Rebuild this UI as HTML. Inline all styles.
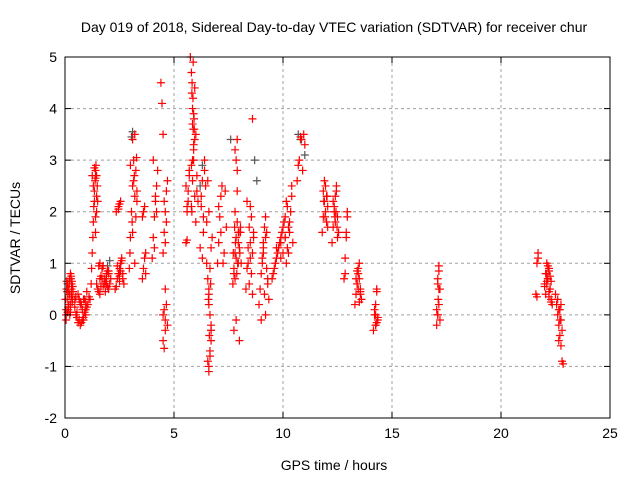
<!DOCTYPE html>
<html><head><meta charset="utf-8"><style>
body{margin:0;background:#fff}
svg{display:block;font-family:"Liberation Sans",sans-serif}
</style></head><body>
<svg id="chart" width="640" height="480" viewBox="0 0 640 480" xmlns="http://www.w3.org/2000/svg">
<rect width="640" height="480" fill="#fff"/>
<g id="grid"></g>
<g id="marks"></g>
<rect x="65" y="57" width="545" height="361" fill="none" stroke="#000" stroke-width="1"/>
<g id="ticks"></g>
<text x="334" y="32" font-size="14" text-anchor="middle">Day 019 of 2018, Sidereal Day-to-day VTEC variation (SDTVAR) for receiver chur</text>
<text x="334" y="470" font-size="14" text-anchor="middle">GPS time / hours</text>
<text x="20" y="238" font-size="14" text-anchor="middle" transform="rotate(-90 20 238)">SDTVAR / TECUs</text>
</svg>
<script>
const xTicks=[0,5,10,15,20,25];
const yTicks=[-2,-1,0,1,2,3,4,5];
const redX=[0.05,0.1,0.15,0.2,0.25,0.3,0.05,0.12,0.18,0.25,0.3,0.35,0.08,0.15,0.22,0.28,0.33,0.1,0.2,0.3,
0.45,0.55,0.65,0.75,0.85,0.95,1.05,0.5,0.6,0.7,0.8,0.9,1.0,0.55,0.7,0.85,0.95,
1.15,1.2,1.22,1.25,1.28,1.3,1.32,1.35,1.38,1.4,1.42,1.45,1.48,1.5,1.35,1.4,1.45,
1.5,1.6,1.7,1.8,1.9,2.0,2.1,1.55,1.65,1.75,1.85,1.95,2.05,1.6,1.8,2.0,1.7,1.9,
2.3,2.4,2.5,2.6,2.7,2.35,2.45,2.55,2.65,2.4,2.5,2.6,2.45,2.55,2.5,
2.95,3.0,3.05,3.1,3.15,3.2,3.25,3.3,2.98,3.08,3.18,3.28,3.1,3.2,3.3,3.0,3.1,3.2,3.15,3.25,
3.55,3.6,3.65,3.7,3.6,3.65,3.55,3.7,4.0,4.05,4.1,4.15,4.2,4.25,4.05,4.15,4.1,4.2,
4.4,4.45,4.5,4.55,4.6,4.5,4.55,4.6,4.65,4.5,4.6,4.55,4.65,4.6,4.7,4.55,4.65,4.7,4.5,4.6,
5.55,5.6,5.65,5.7,5.6,5.65,5.55,5.6,5.7,
5.75,5.8,5.82,5.85,5.88,5.9,5.92,5.95,5.8,5.85,5.9,5.95,5.8,5.85,5.9,5.82,5.88,5.95,6.0,6.05,6.1,6.0,6.05,
6.2,6.25,6.3,6.35,6.4,6.25,6.35,6.45,6.3,6.4,
6.5,6.55,6.6,6.65,6.7,6.55,6.6,6.65,6.7,6.6,6.65,6.7,6.75,6.6,6.55,6.5,6.6,6.7,
7.0,7.05,7.1,7.15,7.2,7.3,7.4,7.05,7.15,7.25,7.35,
7.7,7.75,7.8,7.85,7.9,7.95,8.0,8.05,7.75,7.85,7.95,8.05,7.8,7.9,8.0,7.75,7.85,7.95,7.8,7.9,7.85,7.8,7.9,
8.3,8.35,8.4,8.45,8.5,8.55,8.6,8.65,8.4,8.5,8.6,8.45,8.55,8.35,8.5,8.6,8.65,
8.9,8.95,9.0,9.05,9.1,9.15,9.2,9.25,9.3,9.35,9.0,9.1,9.2,9.3,9.05,9.15,9.25,9.1,9.2,
9.5,9.6,9.7,9.8,9.9,10.0,10.1,10.2,9.55,9.65,9.75,9.85,9.95,10.05,10.15,9.7,9.9,10.1,
10.25,10.3,10.35,10.4,10.45,10.3,10.4,10.65,10.75,10.85,10.95,10.7,10.8,10.9,11.0,
11.8,11.85,11.9,11.95,12.0,12.05,11.85,11.95,12.05,11.9,12.0,
12.25,12.3,12.35,12.4,12.45,12.5,12.55,12.3,12.4,12.5,12.35,12.45,
12.8,12.85,12.9,12.95,12.85,12.9,12.95,
13.3,13.35,13.4,13.45,13.5,13.55,13.6,13.35,13.45,13.55,13.4,13.5,
14.15,14.2,14.25,14.3,14.35,14.2,14.3,14.25,
17.05,17.1,17.15,17.2,17.1,17.15,17.05,17.1,17.15,17.2,
21.6,21.65,21.7,21.65,21.7,
22.0,22.05,22.1,22.15,22.2,22.25,22.3,22.35,22.05,22.15,22.25,22.1,22.2,22.3,22.0,22.1,22.2,
22.5,22.55,22.6,22.65,22.7,22.75,22.8,22.85,22.6,22.7,22.8,22.65,22.75,
0.02,0.07,0.12,0.17,0.22,0.27,0.32,0.37,0.05,0.15,0.25,0.35,
0.45,0.5,0.6,0.7,0.8,0.9,1.0,1.1,0.65,0.75,0.85,0.95,
1.45,1.55,1.65,1.75,1.85,1.95,2.0,1.6,1.7,1.9,
2.35,2.45,2.55,2.65,2.5,
1.25,1.3,1.35,1.4,1.45,1.4,
7.72,7.82,7.92,8.02,7.88,7.98,8.08,7.78,
9.9,10.0,10.1,10.2,10.25,10.15,
13.4,13.5,13.45,13.55,
14.25,14.3,14.35,14.25,
22.15,22.2,22.25,22.1,22.3,22.2,
22.65,22.7,22.75,
5.83,5.87,5.9,5.93,5.85,
6.62,6.65,6.6,6.58,6.68,
11.87,11.93,12.02,
12.38,12.43,12.48,
17.12,17.1,17.15];
const redY=[0.1,0.3,0.5,0.7,0.2,0.6,-0.1,0.05,0.4,0.8,0.35,0.55,0.65,0.15,0.0,0.75,0.25,0.45,0.6,0.5,
0.3,0.05,-0.1,-0.15,-0.1,0.0,0.2,0.35,0.4,0.25,0.1,0.3,0.45,-0.05,0.2,-0.05,0.1,
0.3,0.6,0.9,1.2,1.5,1.8,2.1,2.4,2.6,2.8,2.9,2.7,2.5,2.2,2.85,1.6,2.0,
0.5,0.7,0.9,0.6,0.8,0.5,0.7,0.95,0.75,0.55,0.65,0.85,0.6,0.4,0.7,0.8,0.9,0.6,
0.5,0.7,0.9,1.1,0.6,2.0,2.1,2.2,0.8,0.95,0.65,1.05,2.05,0.85,0.75,
0.9,1.5,2.0,2.5,3.0,3.5,2.8,2.2,1.2,1.8,2.7,3.05,3.4,1.0,2.4,2.9,1.6,2.3,2.6,1.9,
0.7,0.9,1.1,1.2,2.0,2.1,1.9,0.8,1.1,1.5,1.9,2.2,2.5,2.8,3.0,2.3,1.3,2.0,
4.5,4.1,3.5,0.1,-0.3,1.2,1.6,2.0,2.4,-0.5,-0.1,-0.65,0.2,1.4,2.6,2.2,1.8,-0.2,0.0,0.5,
1.4,2.1,2.4,2.7,1.45,2.2,2.5,2.0,2.8,
5.0,4.7,4.3,4.0,3.6,3.2,3.8,3.4,2.9,2.6,3.0,2.3,2.1,3.7,3.3,2.0,4.9,4.4,3.5,2.7,2.2,1.8,2.4,
1.3,2.1,2.6,1.6,3.0,2.3,1.9,2.5,1.1,2.8,
1.0,0.7,0.4,0.0,-0.5,-0.9,-1.1,-0.7,-0.3,0.2,0.9,1.3,1.5,2.0,2.6,1.8,0.5,-0.2,
1.0,1.4,1.9,2.3,2.5,1.2,1.7,2.1,1.6,1.0,2.4,
0.6,0.9,1.2,1.5,1.8,1.0,1.3,1.6,0.8,1.1,1.4,1.7,2.0,2.4,-0.5,-0.3,-0.1,1.6,0.7,2.8,3.0,3.2,3.4,
0.5,0.9,1.3,1.7,2.1,0.8,1.2,1.6,1.0,1.4,3.8,0.6,1.9,2.2,1.1,0.4,1.5,
0.2,0.5,0.8,1.1,1.4,1.7,1.9,0.9,0.6,0.3,-0.1,1.2,1.5,0.7,1.0,0.4,1.6,1.3,0.0,
0.7,0.9,1.1,1.3,1.5,1.7,1.9,2.1,0.8,1.0,1.2,1.4,1.6,1.8,2.2,1.3,1.1,1.5,
1.2,1.6,2.0,2.3,1.4,1.8,2.5,2.6,3.0,3.4,3.5,2.9,3.45,2.8,3.3,
1.6,1.9,2.2,2.5,1.8,2.1,2.4,2.0,1.7,2.6,2.3,
1.4,1.7,2.0,2.3,2.5,1.9,1.6,2.2,1.8,1.5,2.1,2.4,
0.7,1.1,1.6,2.0,0.8,1.5,1.9,
0.2,0.4,0.6,0.8,1.0,0.5,0.3,0.7,0.9,0.4,0.6,0.25,
-0.3,0.0,0.2,0.45,-0.1,0.1,0.5,-0.2,
-0.2,0.0,0.2,0.5,0.7,0.95,0.1,0.6,0.85,-0.1,
0.4,1.0,1.2,0.35,1.1,
0.6,0.8,1.0,0.7,0.9,0.5,0.3,0.2,0.4,0.95,0.75,0.6,0.85,0.25,0.55,0.65,0.45,
0.4,0.2,0.0,-0.2,-0.4,-0.6,-0.9,-0.95,0.3,0.1,-0.3,-0.5,-0.1,
0.3,0.5,0.6,0.2,0.4,0.7,0.65,0.45,0.0,0.1,0.05,0.3,
0.15,0.0,-0.15,-0.2,-0.1,0.05,0.15,0.35,0.3,0.2,0.3,0.25,
0.6,0.45,0.55,0.95,0.45,0.55,0.85,1.0,0.7,0.75,
0.55,0.8,1.0,0.7,2.15,
2.7,2.5,2.2,1.9,2.3,2.65,
1.2,1.4,1.0,1.2,0.8,1.6,1.0,1.7,
1.4,1.2,1.5,1.3,1.7,1.0,
0.85,0.7,0.5,0.45,
0.0,-0.15,-0.05,-0.2,
0.7,0.9,0.5,0.8,0.65,0.35,
0.1,-0.1,0.2,
4.5,4.2,3.9,3.6,3.0,
-0.4,-0.8,-1.0,0.3,0.6,
2.2,1.9,2.3,
1.9,2.0,1.7,
0.3,0.0,0.5];
const grayX=[3.05,3.1,6.2,6.3,6.7,7.6,8.7,8.8,10.7,10.8,2.05,1.95,11.0];
const grayY=[3.45,3.55,2.5,2.9,-0.3,3.4,3.0,2.6,3.5,3.4,1.05,0.95,3.1];

const L=65,R=610,T=57,B=418;
const xs=h=>L+(h-0)/(25-0)*(R-L);
const ys=v=>B-(v+2)/7*(B-T);
const NS='http://www.w3.org/2000/svg';
const grid=document.getElementById('grid'),ticks=document.getElementById('ticks'),marks=document.getElementById('marks');
function mk(tag,attrs,parent){const e=document.createElementNS(NS,tag);for(const k in attrs)e.setAttribute(k,attrs[k]);parent.appendChild(e);return e;}
xTicks.forEach(t=>{const x=xs(t);
 if(t>0&&t<25){const g=mk('line',{x1:x,x2:x,y1:T,y2:B,stroke:'#a0a0a0','stroke-dasharray':'3,3'},grid);
 
 }
 mk('line',{x1:x,x2:x,y1:B,y2:B-6,stroke:'#000'},ticks);mk('line',{x1:x,x2:x,y1:T,y2:T+6,stroke:'#000'},ticks);
 const tx=mk('text',{x:x,y:B+20,'font-size':14,'text-anchor':'middle'},ticks);tx.textContent=t;
 
 });
yTicks.forEach(t=>{const y=ys(t);
 if(t>-2&&t<5){const g=mk('line',{x1:L,x2:R,y1:y,y2:y,stroke:'#a0a0a0','stroke-dasharray':'3,3'},grid);
 
 }
 mk('line',{x1:L,x2:L+6,y1:y,y2:y,stroke:'#000'},ticks);mk('line',{x1:R,x2:R-6,y1:y,y2:y,stroke:'#000'},ticks);
 const tx=mk('text',{x:L-8,y:y+5,'font-size':14,'text-anchor':'end'},ticks);tx.textContent=t;
 
 });
function plus(h,v,col){const x=xs(h),y=ys(v);
 const p=mk('path',{d:`M${x-4},${y}H${x+4}M${x},${y-4}V${y+4}`,stroke:col,'stroke-width':1.2,fill:'none'},marks);
 return p;}
grayX.forEach((h,i)=>{const p=plus(h,grayY[i],'#555');
 
 });
redX.forEach((h,i)=>{const p=plus(h,redY[i],'#f00');
 
 });
</script>
</body></html>
